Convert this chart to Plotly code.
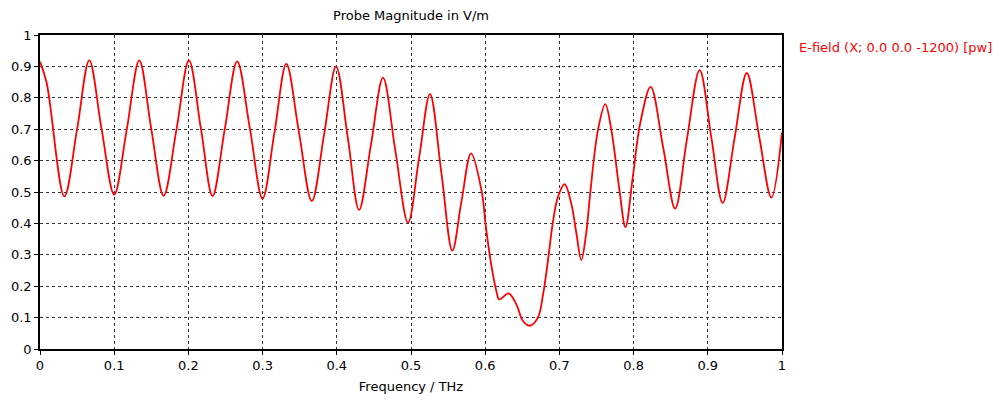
import plotly.graph_objects as go

freq = [0.0, 0.009, 0.0328, 0.050, 0.0664, 0.083, 0.100, 0.117, 0.1338, 0.150, 0.1666, 0.184,
        0.2007, 0.217, 0.2325, 0.249, 0.2657, 0.283, 0.2999, 0.316, 0.332, 0.349, 0.3663,
        0.383, 0.399, 0.415, 0.430, 0.446, 0.4623, 0.479, 0.496, 0.511, 0.5256, 0.541,
        0.5557, 0.568, 0.581, 0.595, 0.601, 0.608, 0.615, 0.619, 0.6316, 0.642, 0.651,
        0.660, 0.671, 0.678, 0.6845, 0.691, 0.698, 0.707, 0.716, 0.723, 0.7295, 0.736, 0.7415,
        0.752, 0.7618, 0.770, 0.781, 0.789, 0.799, 0.809, 0.823, 0.840, 0.856, 0.872, 0.889,
        0.905, 0.920, 0.936, 0.9525, 0.969, 0.9857, 1.0]
efield = [0.915, 0.847, 0.486, 0.70, 0.919, 0.70, 0.492, 0.70, 0.919, 0.70, 0.488, 0.70,
          0.919, 0.70, 0.487, 0.70, 0.916, 0.70, 0.479, 0.69, 0.908, 0.69, 0.471,
          0.685, 0.90, 0.67, 0.443, 0.65, 0.864, 0.63, 0.402, 0.61, 0.812, 0.56,
          0.313, 0.47, 0.623, 0.505, 0.388, 0.27, 0.185, 0.158, 0.177, 0.142, 0.089,
          0.074, 0.100, 0.174, 0.28, 0.40, 0.484, 0.525, 0.463, 0.367, 0.283, 0.367, 0.495,
          0.698, 0.780, 0.698, 0.505, 0.388, 0.55, 0.72, 0.835, 0.64, 0.447, 0.67, 0.888,
          0.67, 0.465, 0.67, 0.879, 0.68, 0.482, 0.69]

x_ticks = [0, 0.1, 0.2, 0.3, 0.4, 0.5, 0.6, 0.7, 0.8, 0.9, 1]
x_labels = ["0", "0.1", "0.2", "0.3", "0.4", "0.5", "0.6", "0.7", "0.8", "0.9", "1"]
y_ticks = [0, 0.1, 0.2, 0.3, 0.4, 0.5, 0.6, 0.7, 0.8, 0.9, 1]
y_labels = ["0", "0.1", "0.2", "0.3", "0.4", "0.5", "0.6", "0.7", "0.8", "0.9", "1"]

series_name = "E-field (X; 0.0 0.0 -1200) [pw]"

fig = go.Figure()
fig.add_trace(go.Scatter(x=freq, y=efield, mode="lines", name=series_name,
                         line=dict(color="#ff0000", width=1.8, shape="spline", smoothing=1.0),
                         showlegend=False))

font_family = "DejaVu Sans"
axis_common = dict(showline=True, linecolor="black", linewidth=1.5, mirror=True,
                   showgrid=True, gridcolor="#333333", griddash="3px,3px", gridwidth=1,
                   ticks="outside", ticklen=4, tickcolor="black", zeroline=False,
                   automargin=False,
                   tickfont=dict(family=font_family, size=13, color="black"))

fig.update_xaxes(range=[0, 1], tickvals=x_ticks, ticktext=x_labels,
                 title=dict(text="Frequency / THz", font=dict(family=font_family, size=13, color="black"), standoff=10),
                 **axis_common)
fig.update_yaxes(range=[0, 1], tickvals=y_ticks, ticktext=y_labels, **axis_common)

fig.add_annotation(text=series_name, xref="paper", yref="paper", x=1.02, y=0.96,
                   xanchor="left", yanchor="middle", showarrow=False,
                   font=dict(family=font_family, size=13, color="#ff0000"))

fig.update_layout(
    width=1000, height=405,
    margin=dict(l=40, r=218, t=35, b=56),
    paper_bgcolor="white", plot_bgcolor="white",
    title=dict(text="Probe Magnitude in V/m", x=0.411, xanchor="center", yref="container",
               y=1 - 15 / 405, yanchor="middle",
               font=dict(family=font_family, size=13, color="black")),
)

fig.write_html("out.html", config={"displayModeBar": False},
               post_script="document.body.style.margin='0';")
